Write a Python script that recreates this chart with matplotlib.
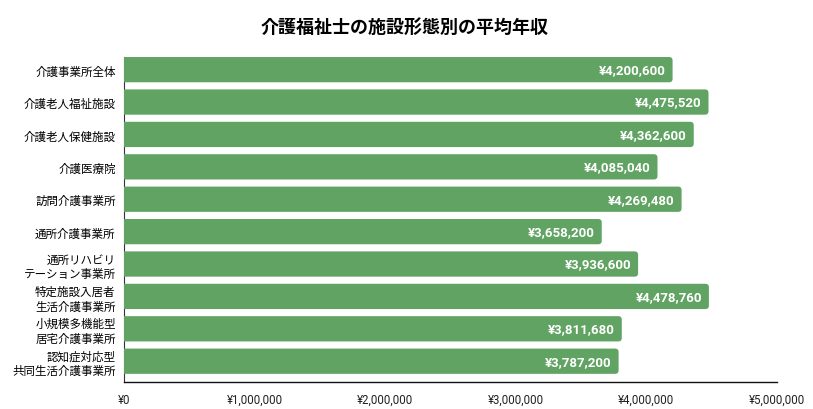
import matplotlib
matplotlib.use('Agg')
import matplotlib.pyplot as plt
from matplotlib.patches import FancyBboxPatch

plt.rcParams['font.family'] = ['Roboto', 'Noto Sans CJK JP', 'DejaVu Sans']

CATEGORIES = [
    "介護事業所全体",
    "介護老人福祉施設",
    "介護老人保健施設",
    "介護医療院",
    "訪問介護事業所",
    "通所介護事業所",
    "通所リハビリ\nテーション事業所",
    "特定施設入居者\n生活介護事業所",
    "小規模多機能型\n居宅介護事業所",
    "認知症対応型\n共同生活介護事業所",
]
SALARY = [4200600, 4475520, 4362600, 4085040, 4269480,
          3658200, 3936600, 4478760, 3811680, 3787200]
X_TICKS = [0, 1000000, 2000000, 3000000, 4000000, 5000000]

TITLE = "介護福祉士の施設形態別の平均年収"
GREEN = "#61A362"

fig = plt.figure(figsize=(8.13, 4.10), dpi=100)
ax = fig.add_axes([0.1525, 0.066, 0.8032, 0.7925])

ypos = list(range(len(CATEGORIES)))
bars = ax.barh(ypos, SALARY, height=0.78, color=GREEN, zorder=3)

# swap the plain bars for ones with rounded corners (left edge pushed past x=0 so it gets clipped)
px_x = 5000000 / 653.0
px_y = 10.03 / 325.0
for b in bars:
    x0, y0 = b.get_x(), b.get_y()
    w, h = b.get_width(), b.get_height()
    b.set_visible(False)
    rb = FancyBboxPatch((x0 - 20 * px_x, y0), w + 20 * px_x, h,
                        boxstyle=f"round,pad=0,rounding_size={3.5 * px_x}",
                        mutation_aspect=px_y / px_x,
                        facecolor=GREEN, edgecolor='none', zorder=3,
                        clip_on=True)
    ax.add_patch(rb)

for y, v in zip(ypos, SALARY):
    ax.text(v - 7 * px_x, y, f"¥{v:,}", ha='right', va='center',
            color='white', fontsize=9.5, fontweight='bold', zorder=4)

ax.set_xlim(0, 5000000)
ax.set_ylim(9.64, -0.39)
ax.set_yticks(ypos)
ax.set_yticklabels(CATEGORIES, fontsize=8.3, family=['Noto Sans CJK JP', 'DejaVu Sans'],
                   linespacing=1.15)
ax.set_xticks(X_TICKS)
ax.set_xticklabels([f"¥{t:,}" for t in X_TICKS], fontsize=8.3, color='#222222')
ax.tick_params(axis='both', length=0)
ax.tick_params(axis='y', pad=6)
ax.tick_params(axis='x', pad=8)

for s in ['top', 'right']:
    ax.spines[s].set_visible(False)
ax.spines['left'].set_color('#333333')
ax.spines['left'].set_linewidth(0.8)
ax.spines['bottom'].set_color('#111111')
ax.spines['bottom'].set_linewidth(1.0)

fig.text(0.4975, 0.934, TITLE, ha='center', va='center', fontsize=13,
         fontweight='bold', family=['Noto Sans CJK JP', 'DejaVu Sans'])

fig.savefig('out.png', dpi=100)
